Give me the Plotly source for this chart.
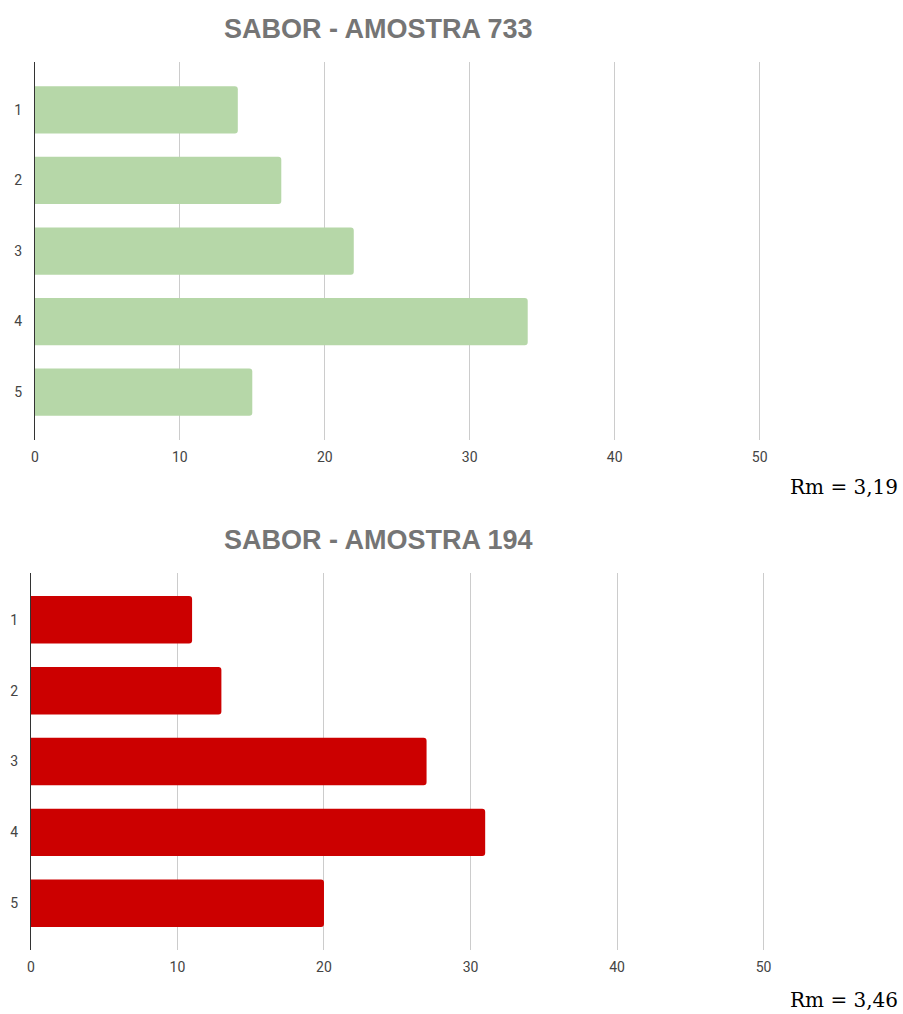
import plotly.graph_objects as go

categories = ["1", "2", "3", "4", "5"]
values_733 = [14, 17, 22, 34, 15]
values_194 = [11, 13, 27, 31, 20]
titles = ["SABOR - AMOSTRA 733", "SABOR - AMOSTRA 194"]
rm_labels = ["Rm = 3,19", "Rm = 3,46"]
x_ticks = [0, 10, 20, 30, 40, 50]

W, H = 903, 1014

def py(p):
    return 1 - p / H

def px(p):
    return p / W

fig = go.Figure()
fig.add_trace(go.Bar(x=values_733, y=categories, orientation="h",
                     marker=dict(color="#b6d7a8", cornerradius=3, line=dict(width=0)),
                     width=0.67, xaxis="x", yaxis="y", hoverinfo="x+y"))
fig.add_trace(go.Bar(x=values_194, y=categories, orientation="h",
                     marker=dict(color="#cc0000", cornerradius=3, line=dict(width=0)),
                     width=0.67, xaxis="x2", yaxis="y2", hoverinfo="x+y"))

tickfont = dict(family="Roboto, Arial, sans-serif", size=14, color="#444444")

xcommon = dict(tickvals=x_ticks, showgrid=True, gridcolor="#cccccc", gridwidth=1,
               zeroline=False, showline=False, ticks="", tickfont=tickfont,
               ticklabelstandoff=7, fixedrange=True)
ycommon = dict(type="category", categoryorder="array", categoryarray=categories,
               showgrid=False, zeroline=False, showline=True, linecolor="#333333",
               linewidth=1, ticks="", tickfont=tickfont, ticklabelstandoff=9,
               fixedrange=True)

fig.update_layout(
    width=W, height=H,
    margin=dict(l=0, r=0, t=0, b=0),
    paper_bgcolor="white", plot_bgcolor="white",
    showlegend=False, bargap=0.3,
    xaxis=dict(domain=[px(31), px(31 + 55 * 14.56)], range=[0, 55], anchor="y", **xcommon),
    yaxis=dict(domain=[py(440), py(62)], range=[4.68, -0.68], anchor="x", **ycommon),
    xaxis2=dict(domain=[px(27), px(27 + 55 * 14.72)], range=[0, 55], anchor="y2", **xcommon),
    yaxis2=dict(domain=[py(950), py(573)], range=[4.66, -0.66], anchor="x2", **ycommon),
)

title_ys = [29, 540]
rm_ys = [487, 1000]
for t, ty, r, ry in zip(titles, title_ys, rm_labels, rm_ys):
    fig.add_annotation(text=t, x=px(376), y=py(ty), xref="paper", yref="paper",
                       xanchor="center", yanchor="middle", showarrow=False,
                       font=dict(family="Liberation Sans, Arial, sans-serif", size=27,
                                 color="#757575", weight="bold"))
    fig.add_annotation(text=r, x=px(900), y=py(ry), xref="paper", yref="paper",
                       xanchor="right", yanchor="middle", showarrow=False,
                       font=dict(family="DejaVu Serif, serif", size=20, color="#000000"))

fig.write_html("out.html", config={"displayModeBar": False},
               post_script="document.body.style.margin='0';document.body.style.overflow='hidden';")
